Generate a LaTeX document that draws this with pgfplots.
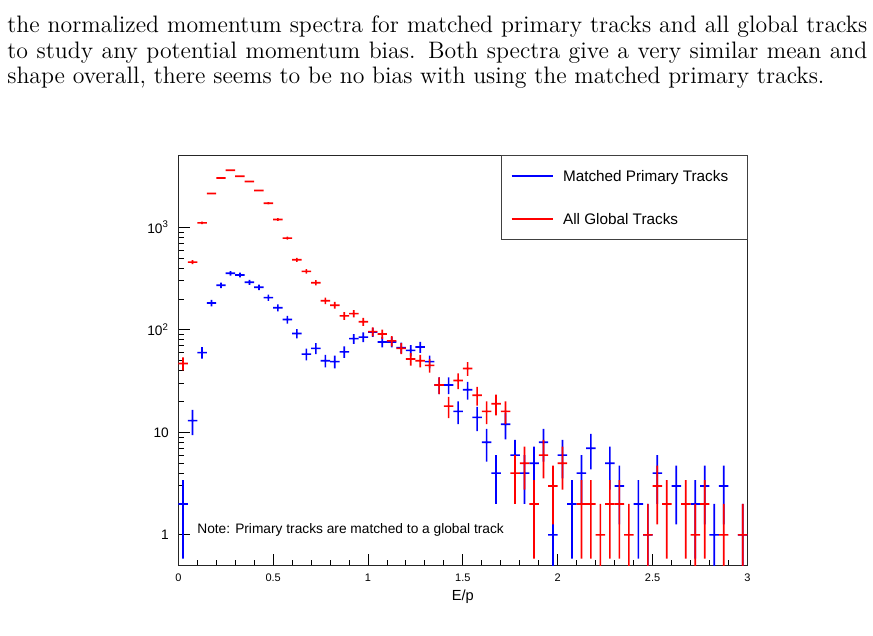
\documentclass[border=0pt]{standalone}
\usepackage{fontspec}
\usepackage{pgfplots}
\usepackage{pgfplotstable}
\pgfplotsset{compat=1.18}
\newfontfamily\rootfont{Liberation Sans}

% E/p histograms, 60 bins of width 0.05; n = entries per bin (empty bins left out)
\pgfplotstableread{
x n
0.025 2
0.075 13
0.125 60
0.175 183
0.225 272
0.275 356
0.325 343
0.375 291
0.425 260
0.475 206
0.525 164
0.575 126
0.625 92
0.675 58
0.725 66
0.775 50
0.825 49
0.875 61
0.925 82
0.975 85
1.025 95
1.075 76
1.125 76
1.175 67
1.225 63
1.275 68
1.325 49
1.375 29
1.425 29
1.475 16
1.525 26
1.575 14
1.625 8
1.675 4
1.725 12
1.775 6
1.825 4
1.875 5
1.925 8
1.975 1
2.025 6
2.075 2
2.125 4
2.175 7
2.275 5
2.325 3
2.425 2
2.475 1
2.525 4
2.625 3
2.725 2
2.775 3
2.825 1
2.875 3
2.975 1
}\matchedtracks

\pgfplotstableread{
x n
0.025 47
0.075 458
0.125 1106
0.175 2138
0.225 3034
0.275 3606
0.325 3152
0.375 2799
0.425 2287
0.475 1721
0.525 1194
0.575 785
0.625 483
0.675 372
0.725 288
0.775 192
0.825 174
0.875 137
0.925 144
0.975 120
1.025 96
1.075 91
1.125 78
1.175 66
1.225 52
1.275 50
1.325 45
1.375 29
1.425 18
1.475 32
1.525 42
1.575 23
1.625 16
1.675 19
1.725 16
1.775 4
1.825 5
1.875 2
1.925 6
1.975 3
2.025 5
2.125 2
2.175 2
2.225 1
2.275 2
2.325 2
2.375 1
2.475 1
2.525 3
2.575 2
2.675 2
2.725 1
2.775 2
2.875 1
2.975 1
}\globaltracks

% histogram point: bar over the bin width and sqrt(n) error bar, both as filled strips
% (\errup and \errdn are the bar lengths above and below the point, in pt)
\newcommand\histpointpath[1]{%
  \pgfsetfillcolor{#1}%
  \pgfpathrectanglecorners{\pgfqpoint{-2.59pt}{-0.45pt}}{\pgfqpoint{2.59pt}{0.45pt}}%
  \pgfpathrectanglecorners{\pgfpoint{-0.45pt}{-\errdn pt}}{\pgfpoint{0.45pt}{\errup pt}}%
  \pgfusepathqfill}
\pgfdeclareplotmark{histblue}{\histpointpath{blue}}
\pgfdeclareplotmark{histred}{\histpointpath{red}}

\begin{document}
\begin{tikzpicture}[x=1pt,y=1pt]
\path[use as bounding box] (0,0) rectangle (476.83,347.38);

% paragraph above the figure
\begin{scope}[every node/.style={inner sep=0pt, anchor=base west, font=\fontsize{13}{15}\selectfont}]
\node at (3.82,329.6) {\makebox[469.75pt][s]{the normalized momentum spectra for matched primary tracks and all global tracks}};
\node at (3.82,315.6) {\makebox[469.75pt][s]{to study any potential momentum bias. Both spectra give a very similar mean and}};
\node at (3.82,301.6) {shape overall, there seems to be no bias with using the matched primary tracks.};
\end{scope}

\begin{axis}[
  at={(97.39pt,38.40pt)}, anchor=south west,
  scale only axis, width=310.85pt, height=223.94pt,
  xmin=0, xmax=3, ymode=log, ymin=0.5, ymax=5000,
  axis line style={black!85, line width=0.7pt},
  tick pos=left, tick align=inside,
  tick style={black, line width=0.5pt},
  major tick length=6.3pt, minor tick length=3.1pt,
  xtick={0,0.5,1,1.5,2,2.5,3},
  xticklabels={0,0.5,1,1.5,2,2.5,3},
  minor x tick num=4,
  ytick={1,10,100,1000},
  yticklabels={1,10,10\textsuperscript{2},10\textsuperscript{3}},
  xticklabel style={font=\rootfont\fontsize{6}{7}\selectfont, anchor=north, inner sep=0pt, yshift=-4.2pt},
  yticklabel style={font=\rootfont\fontsize{7.5}{9}\selectfont, anchor=east, inner sep=0pt, xshift=-5pt},
  xlabel={E/p},
  xlabel style={font=\rootfont\fontsize{8}{9}\selectfont, at={(axis description cs:0.5,0)}, anchor=north, inner sep=0pt, yshift=-13.2pt},
  clip marker paths=true,
  % one decade of the y axis is 223.94pt/4 = 55.985pt
  histo/.style={only marks, mark=hist#1, color=#1,
    mark options={solid, fill=#1, draw=none},
    visualization depends on={55.985*(log10(\thisrow{n}+sqrt(\thisrow{n}))-log10(\thisrow{n})) \as \errup},
    visualization depends on={55.985*(log10(\thisrow{n})-log10(max(\thisrow{n}-sqrt(\thisrow{n}),0.3))) \as \errdn}},
]
\addplot[histo=blue] table[x=x, y=n] {\matchedtracks};
\addplot[histo=red] table[x=x, y=n] {\globaltracks};
\end{axis}

% legend box
\draw[black!75, line width=0.6pt, fill=white] (274.03,216.68) rectangle (408.24,262.34);
\draw[blue, line width=1pt] (279.49,251.25) -- (302.22,251.25);
\draw[red, line width=1pt] (279.49,227.77) -- (302.22,227.77);
\begin{scope}[every node/.style={inner sep=0pt, anchor=base west, font=\rootfont\fontsize{8.35}{10}\selectfont}]
\node at (307.35,248.25) {Matched Primary Tracks};
\node at (307.35,224.77) {All Global Tracks};
\node[font=\rootfont\fontsize{7.5}{9}\selectfont] at (107.6,55.71) {Note: Primary tracks are matched to a global track};
\end{scope}
\end{tikzpicture}
\end{document}
